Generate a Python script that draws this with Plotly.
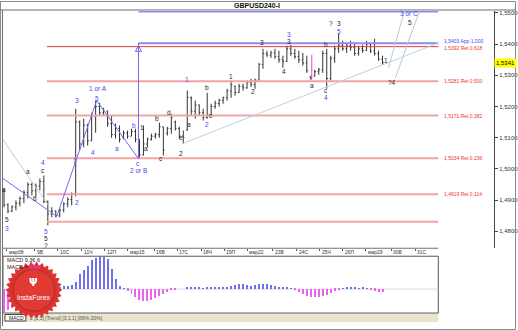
import numpy as np
import plotly.graph_objects as go

W, H = 518, 330
def px(x):
    return x / W
def py(y):
    return 1 - y / H

# ---------------- data ----------------
bar_open = [1.4930,1.4885,1.4865,1.4878,1.4890,1.4905,1.4925,1.4950,1.4930,1.4945,
            1.4960,1.4895,1.4855,1.4865,1.4850,1.4868,1.4888,1.4902,1.4920,1.5150,
            1.5080,1.5140,1.5090,1.5170,1.5200,1.5180,1.5185,1.5145,1.5110,1.5130,
            1.5100,1.5115,1.5105,1.5120,1.5095,1.5045,1.5080,1.5095,1.5105,1.5110,
            1.5135,1.5115,1.5130,1.5150,1.5130,1.5105,1.5125,1.5228,1.5185,1.5205,
            1.5180,1.5165,1.5175,1.5200,1.5210,1.5220,1.5228,1.5250,1.5265,1.5245,
            1.5265,1.5260,1.5278,1.5270,1.5285,1.5335,1.5370,1.5365,1.5372,1.5360,
            1.5350,1.5345,1.5385,1.5370,1.5360,1.5350,1.5340,1.5295,1.5298,1.5312,
            1.5318,1.5370,1.5290,1.5355,1.5385,1.5395,1.5385,1.5395,1.5390,1.5370,
            1.5385,1.5380,1.5400,1.5378,1.5370,1.5352]
bar_high = [1.4937,1.4890,1.4883,1.4899,1.4912,1.4931,1.4957,1.4955,1.4953,1.4969,
            1.4979,1.4899,1.4877,1.4867,1.4874,1.4893,1.4909,1.4925,1.5193,1.5155,
            1.5161,1.5145,1.5180,1.5219,1.5212,1.5196,1.5187,1.5171,1.5145,1.5139,
            1.5123,1.5123,1.5129,1.5129,1.5095,1.5139,1.5100,1.5113,1.5116,1.5148,
            1.5135,1.5135,1.5177,1.5155,1.5135,1.5123,1.5251,1.5232,1.5219,1.5206,
            1.5193,1.5244,1.5209,1.5219,1.5225,1.5232,1.5257,1.5283,1.5267,1.5273,
            1.5273,1.5283,1.5289,1.5289,1.5340,1.5385,1.5379,1.5379,1.5385,1.5379,
            1.5363,1.5395,1.5398,1.5385,1.5379,1.5372,1.5363,1.5299,1.5318,1.5324,
            1.5379,1.5385,1.5363,1.5395,1.5433,1.5411,1.5404,1.5411,1.5404,1.5395,
            1.5398,1.5411,1.5404,1.5417,1.5379,1.5363]
bar_low = [1.4877,1.4858,1.4861,1.4867,1.4880,1.4890,1.4905,1.4915,1.4909,1.4931,
           1.4890,1.4819,1.4845,1.4845,1.4845,1.4861,1.4877,1.4883,1.4912,1.5059,
           1.5069,1.5075,1.5090,1.5116,1.5171,1.5171,1.5135,1.5100,1.5097,1.5085,
           1.5095,1.5097,1.5105,1.5085,1.5033,1.5043,1.5069,1.5091,1.5097,1.5100,
           1.5043,1.5107,1.5113,1.5123,1.5097,1.5081,1.5123,1.5171,1.5161,1.5171,
           1.5155,1.5161,1.5171,1.5193,1.5200,1.5209,1.5219,1.5228,1.5235,1.5244,
           1.5251,1.5257,1.5263,1.5257,1.5283,1.5321,1.5359,1.5356,1.5353,1.5340,
           1.5324,1.5343,1.5363,1.5353,1.5340,1.5331,1.5308,1.5286,1.5296,1.5302,
           1.5308,1.5257,1.5283,1.5340,1.5372,1.5379,1.5372,1.5379,1.5363,1.5363,
           1.5372,1.5379,1.5372,1.5363,1.5347,1.5334]
bar_close = [1.4885,1.4865,1.4878,1.4890,1.4905,1.4925,1.4950,1.4930,1.4945,1.4960,
             1.4895,1.4855,1.4865,1.4850,1.4868,1.4888,1.4902,1.4920,1.5150,1.5080,
             1.5140,1.5090,1.5170,1.5200,1.5180,1.5185,1.5145,1.5110,1.5130,1.5095,
             1.5115,1.5105,1.5120,1.5095,1.5045,1.5080,1.5095,1.5105,1.5110,1.5135,
             1.5060,1.5130,1.5165,1.5130,1.5105,1.5100,1.5230,1.5185,1.5205,1.5180,
             1.5165,1.5175,1.5200,1.5210,1.5220,1.5228,1.5250,1.5270,1.5245,1.5265,
             1.5260,1.5278,1.5270,1.5285,1.5335,1.5370,1.5365,1.5372,1.5360,1.5350,
             1.5345,1.5385,1.5370,1.5360,1.5350,1.5340,1.5315,1.5290,1.5312,1.5318,
             1.5370,1.5290,1.5355,1.5385,1.5395,1.5385,1.5395,1.5390,1.5370,1.5385,
             1.5380,1.5400,1.5378,1.5370,1.5352,1.5341]
bar_idx = list(range(len(bar_open)))

macd_hist = [-0.0046,-0.0042,-0.0038,-0.0032,-0.0025,-0.0018,-0.0010,-0.0005,0.0002,0.0008,
             0.0010,0.0006,0.0004,0.0002,0.0003,0.0005,0.0006,0.0008,0.0014,0.0030,
             0.0038,0.0046,0.0058,0.0062,0.0064,0.0064,0.0060,0.0040,0.0020,0.0006,
             0.0001,-0.0004,-0.0010,-0.0016,-0.0022,-0.0024,-0.0024,-0.0022,-0.0018,-0.0014,
             -0.0010,-0.0006,-0.0003,-0.0001,0.0000,0.0000,0.0003,0.0004,0.0002,0.0002,
             0.0001,0.0002,0.0003,0.0004,0.0004,0.0003,0.0004,0.0006,0.0008,0.0010,
             0.0010,0.0008,0.0006,0.0008,0.0010,0.0010,0.0010,0.0008,0.0006,0.0004,
             0.0002,0.0002,0.0001,-0.0002,-0.0006,-0.0010,-0.0014,-0.0016,-0.0016,-0.0016,
             -0.0014,-0.0012,-0.0008,-0.0004,-0.0002,0.0001,0.0002,0.0002,0.0002,0.0001,
             0.0002,0.0001,-0.0002,-0.0004,-0.0006,-0.0006]

tick_pos = [0.75, 7.75, 13.5, 19.5, 25.25, 31, 37.75, 43.5, 49.5, 55.25,
            61, 67.5, 73.5, 79.25, 85, 90.75, 97.25, 103.25]
tick_text = ["мар08", "9В", "10С", "11Ч", "12П", "мар15", "16В", "17С", "18Ч", "19П",
             "мар22", "23В", "24С", "25Ч", "26П", "мар29", "30В", "31С"]

price_ticks = [1.48, 1.49, 1.50, 1.51, 1.52, 1.53, 1.54, 1.55]
price_tick_text = ["1,4800", "1,4900", "1,5000", "1,5100", "1,5200", "1,5300", "1,5400", "1,5500"]

red_levels = [1.5392, 1.5281, 1.5171, 1.5034, 1.4919, 1.4831]
red_texts = ["1,5392 Ret 0,618", "1,5281 Ret 0,500", "1,5171 Ret 0,382",
             "1,5034 Ret 0,236", "1,4919 Ret 0,114", ""]
blue_levels = [1.5505, 1.5403]
blue_texts = ["1,5505 App 1,273", "1,5403 App 1,000"]
last_price = 1.5341

wave_x = [-1, 13.25, 23.25, 33.75]
wave_y = [1.4976, 1.4848, 1.5219, 1.5033]
gray_x = [-1, 11.5]
gray_y = [1.5107, 1.4877]
vert_x = [33.75, 33.75]
vert_y = [1.5033, 1.5404]
trend_x = [44.75, 109]
trend_y = [1.5081, 1.5404]
proj1_x = [96.5, 100.5]
proj1_y = [1.5324, 1.5506]
proj2_x = [98.25, 104.25]
proj2_y = [1.5292, 1.5506]
mag_x = [77.25, 77.25]
mag_y = [1.5366, 1.5286]

blue_lab_x = [0.75, 9.75, 10.5, 18.25, 17.75, 18.25, 23.25, 23.5, 22.25, 28.25, 32.75, 33.75, 33.75,
              46, 51, 71.5, 80.75, 84, 101.75]
blue_lab_y = [1.4810, 1.5021, 1.4800, 1.5219, 1.5027, 1.4893, 1.5225, 1.5257, 1.5053, 1.5065, 1.5139,
              1.5017, 1.4995, 1.5286, 1.5142, 1.5430, 1.5228, 1.5442, 1.5497]
blue_lab_t = ["3", "4", "5", "3", "1", "2", "5", "1 or A", "4", "a", "b", "c", "2 or B",
              "1", "2", "3", "4", "5", "3 or C"]
blk_lab_x = [0, 6, 9.75, 7.75, 0.75, 10.5, 10.5, 34.75, 35.75, 38.5, 39.5, 41.5, 44.5, 44.5,
             46.5, 51, 52, 57, 62.5, 64.75, 70.25, 71.5, 77.25, 80.75, 80.75, 82, 84, 96, 97.5, 102]
blk_lab_y = [1.4934, 1.4992, 1.4995, 1.4906, 1.4838, 1.4778, 1.4755, 1.5132, 1.5065, 1.5161, 1.5033,
             1.5180, 1.5100, 1.5049, 1.5142, 1.5260, 1.5171, 1.5295, 1.5248, 1.5404, 1.5311, 1.5407,
             1.5267, 1.5398, 1.5251, 1.5465, 1.5465, 1.5347, 1.5276, 1.5468]
blk_lab_t = ["a", "a", "c", "b", "5", "5", "?", "1", "a", "b", "c", "d", "e", "2",
             "a", "b", "c", "1", "2", "3", "4", "3", "a", "b", "c", "?", "3", "1", "?4", "5"]

# ---------------- figure ----------------
FONT = "Liberation Sans"
fig = go.Figure()

ymin, ymax = 1.47457, 1.55064
x_end = 109

# red & blue horizontal levels
for i, lv in enumerate(red_levels):
    fig.add_trace(go.Scatter(x=[10.75, x_end], y=[lv, lv], mode="lines",
                             line=dict(color="#E23A3A" if i == 0 else "#F4A3A3", width=1 if i == 0 else 2),
                             hoverinfo="skip", showlegend=False))
for lv in blue_levels:
    fig.add_trace(go.Scatter(x=[33.75, x_end], y=[lv, lv], mode="lines",
                             line=dict(color="#8C8CF0", width=2), hoverinfo="skip", showlegend=False))

line_specs = [
    (gray_x, gray_y, "#C9C9C9", 1),
    (trend_x, trend_y, "#B7D3EA", 1),
    (proj1_x, proj1_y, "#BCC6D8", 1),
    (proj2_x, proj2_y, "#BCC6D8", 1),
    (wave_x, wave_y, "#6C6CEE", 1),
    (vert_x, vert_y, "#6C6CEE", 1),
    (mag_x, mag_y, "#F040D0", 1),
]
for xs, ys, c, w in line_specs:
    fig.add_trace(go.Scatter(x=xs, y=ys, mode="lines", line=dict(color=c, width=w),
                             hoverinfo="skip", showlegend=False))

fig.add_trace(go.Scatter(x=[vert_x[1]], y=[vert_y[1] - 0.0008], mode="markers",
                         marker=dict(symbol="arrow-up-open", size=6, color="#6C6CEE",
                                     line=dict(width=1, color="#6C6CEE")),
                         hoverinfo="skip", showlegend=False))

fig.add_trace(go.Ohlc(x=bar_idx, open=bar_open, high=bar_high, low=bar_low, close=bar_close,
                      increasing=dict(line=dict(color="#333333", width=1)),
                      decreasing=dict(line=dict(color="#333333", width=1)),
                      tickwidth=0.3, hoverinfo="skip", showlegend=False))

# MACD histogram
fig.add_trace(go.Bar(x=bar_idx, y=macd_hist, xaxis="x2", yaxis="y2", width=0.25,
                     marker=dict(color=["#7070F0" if v >= 0 else "#F060F0" for v in macd_hist],
                                 line=dict(width=0)),
                     hoverinfo="skip", showlegend=False))

label_offsets = {"1,5403 App 1,000": 0.0006, "1,5392 Ret 0,618": -0.0004}

annotations = []
for xv, yv, t in zip(blue_lab_x, blue_lab_y, blue_lab_t):
    annotations.append(dict(x=xv, y=yv, xref="x", yref="y", text=t, showarrow=False,
                            font=dict(family=FONT, size=6.5, color="#4848F0"), xanchor="center",
                            yanchor="middle"))
for xv, yv, t in zip(blk_lab_x, blk_lab_y, blk_lab_t):
    annotations.append(dict(x=xv, y=yv, xref="x", yref="y", text=t, showarrow=False,
                            font=dict(family=FONT, size=6.5, color="#1e1e1e"), xanchor="center",
                            yanchor="middle"))
for lv, t in zip(red_levels, red_texts):
    if t:
        annotations.append(dict(x=x_end + 1, y=lv + label_offsets.get(t, 0), xref="x", yref="y", text=t,
                                showarrow=False, font=dict(family=FONT, size=5, color="#F03030"),
                                xanchor="left", yanchor="middle"))
for lv, t in zip(blue_levels, blue_texts):
    annotations.append(dict(x=x_end + 1, y=lv + label_offsets.get(t, 0.0002), xref="x", yref="y", text=t,
                            showarrow=False, font=dict(family=FONT, size=5, color="#4848F0"),
                            xanchor="left", yanchor="middle"))
for tv, tt in zip(tick_pos, tick_text):
    annotations.append(dict(x=tv, y=py(251.5), xref="x", yref="paper", text=tt, showarrow=False,
                            font=dict(family=FONT, size=5, color="#333"), xanchor="left",
                            yanchor="middle"))
annotations.append(dict(x=px(507), y=last_price, xref="paper", yref="y", text="1,5341", showarrow=False,
                        font=dict(family=FONT, size=6, color="#000"), bgcolor="#FFFF00",
                        xanchor="center", yanchor="middle", borderpad=1))
annotations.append(dict(x=px(258), y=py(5), xref="paper", yref="paper", text="<b>GBPUSD240-I</b>",
                        showarrow=False, font=dict(family=FONT, size=7, color="#111"),
                        xanchor="center", yanchor="middle"))
annotations.append(dict(x=px(5), y=py(260), xref="paper", yref="paper", text="MACD 9,36,6",
                        showarrow=False, font=dict(family=FONT, size=5.5, color="#222"),
                        xanchor="left", yanchor="middle"))
annotations.append(dict(x=px(5), y=py(267), xref="paper", yref="paper",
                        text="MACD = <span style='color:#F040F0'>0,00</span>",
                        showarrow=False, font=dict(family=FONT, size=5.5, color="#222"),
                        xanchor="left", yanchor="middle"))
# logo text
annotations.append(dict(x=px(34), y=py(282), xref="paper", yref="paper", text="<b>Ψ</b>",
                        showarrow=False, font=dict(family="DejaVu Sans", size=10, color="#FFFFFF"),
                        xanchor="center", yanchor="middle"))
annotations.append(dict(x=px(34), y=py(297), xref="paper", yref="paper", text="InstaForex",
                        showarrow=False, font=dict(family=FONT, size=7, color="#FFFFFF"),
                        xanchor="center", yanchor="middle"))
# bottom tab text
annotations.append(dict(x=px(7), y=py(318), xref="paper", yref="paper", text="MACD",
                        showarrow=False, font=dict(family=FONT, size=5, color="#222"),
                        xanchor="left", yanchor="middle"))
annotations.append(dict(x=px(28), y=py(318), xref="paper", yref="paper",
                        text="2 [1,5] [Trend] [3,1,1] [89%-20%]",
                        showarrow=False, font=dict(family=FONT, size=5, color="#555"),
                        xanchor="left", yanchor="middle"))

shapes = []
# outer frame and top separator
shapes.append(dict(type="rect", xref="paper", yref="paper", x0=px(0.5), x1=px(517.5), y0=py(329.5), y1=py(0.5),
                   line=dict(color="#8a8a8a", width=1), layer="above"))
shapes.append(dict(type="line", xref="paper", yref="paper", x0=0, x1=1, y0=py(9), y1=py(9),
                   line=dict(color="#707070", width=1)))
shapes.append(dict(type="line", xref="paper", yref="paper", x0=px(2.5), x1=px(2.5), y0=py(326), y1=py(9),
                   line=dict(color="#707070", width=1)))
# main chart bottom border
shapes.append(dict(type="line", xref="paper", yref="paper", x0=px(3), x1=px(440), y0=py(248), y1=py(248),
                   line=dict(color="#707070", width=1)))
# MACD box
shapes.append(dict(type="rect", xref="paper", yref="paper", x0=px(3), x1=px(440), y0=py(313), y1=py(256),
                   line=dict(color="#555", width=1), layer="below"))
# zero line
shapes.append(dict(type="line", xref="x2", yref="y2", x0=-0.25, x1=109, y0=0, y1=0,
                   line=dict(color="#D8D8E8", width=1), layer="below"))
# bottom beige strip + tab
shapes.append(dict(type="rect", xref="paper", yref="paper", x0=px(3), x1=px(440), y0=py(322), y1=py(314),
                   line=dict(width=0), fillcolor="#E9E5CB", layer="below"))
shapes.append(dict(type="rect", xref="paper", yref="paper", x0=px(5), x1=px(26), y0=py(321), y1=py(314.5),
                   line=dict(color="#444", width=1), fillcolor="#FFFFFF", layer="below"))

# logo starburst
n_teeth = 30
ang = np.linspace(0, 2 * np.pi, 2 * n_teeth, endpoint=False)
rad = np.where(np.arange(2 * n_teeth) % 2 == 0, 28.5, 25.0)
cx, cy = 34, 290
lx = cx + rad * np.cos(ang)
ly = cy + rad * np.sin(ang)
path = "M " + " L ".join(f"{px(a):.5f},{py(b):.5f}" for a, b in zip(lx, ly)) + " Z"
shapes.append(dict(type="path", xref="paper", yref="paper", path=path, fillcolor="#DB3530",
                   line=dict(width=0), layer="above"))
shapes.append(dict(type="circle", xref="paper", yref="paper", x0=px(cx - 21), x1=px(cx + 21),
                   y0=py(cy + 21), y1=py(cy - 21), line=dict(color="#C42A26", width=1.5),
                   fillcolor="#E03A34", layer="above"))

fig.update_layout(
    width=W, height=H, margin=dict(l=0, r=0, t=0, b=0),
    paper_bgcolor="#FFFFFF", plot_bgcolor="#FFFFFF",
    font=dict(family=FONT, size=6, color="#333"),
    xaxis=dict(domain=[px(3), px(496)], range=[-0.25, 123], showgrid=False, zeroline=False,
               showline=False, tickvals=tick_pos, ticktext=[""] * len(tick_pos), ticks="outside",
               ticklen=2, tickcolor="#555", rangeslider=dict(visible=False), fixedrange=True),
    yaxis=dict(domain=[py(248), py(10)], range=[ymin, ymax], side="right", showgrid=False,
               zeroline=False, showline=True, linecolor="#444", linewidth=1,
               tickvals=price_ticks, ticktext=price_tick_text, ticks="outside", ticklen=3,
               tickcolor="#444", tickfont=dict(family=FONT, size=6, color="#333")),
    xaxis2=dict(domain=[px(3), px(440)], range=[-0.25, 109], anchor="y2", visible=False),
    yaxis2=dict(domain=[py(313), py(256)], range=[-0.0048, 0.0066], anchor="x2", visible=False),
    annotations=annotations, shapes=shapes, bargap=0,
)

fig.write_html("out.html")
